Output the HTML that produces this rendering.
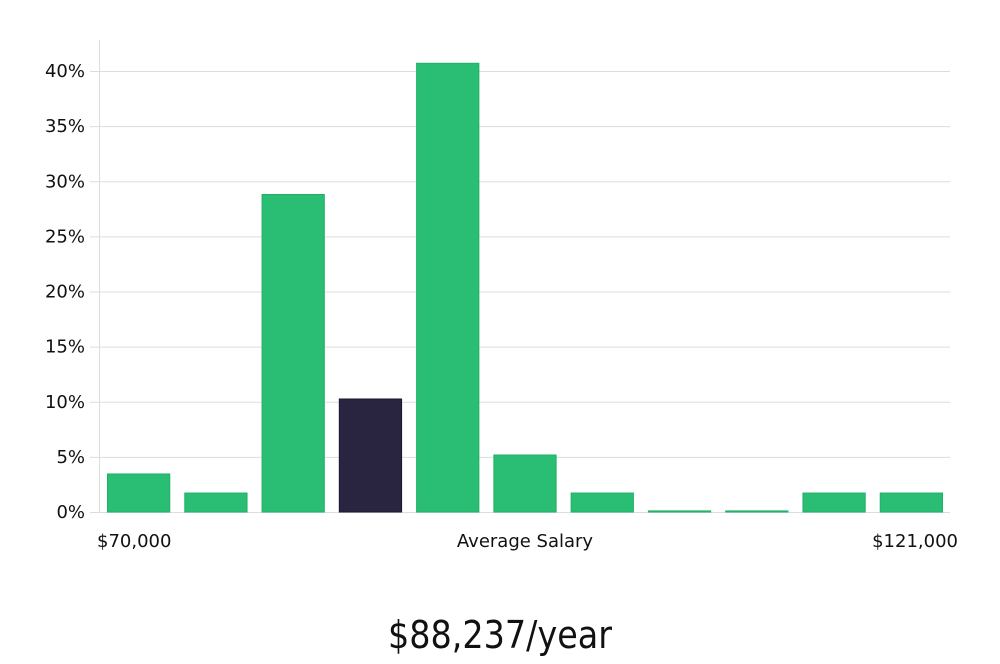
<!DOCTYPE html>
<html><head><meta charset="utf-8"><style>
html,body{margin:0;padding:0;background:#fff;}
body{width:1000px;height:660px;overflow:hidden;font-family:"DejaVu Sans","Liberation Sans",sans-serif;}
</style></head><body>
<svg id="chart" width="1000" height="660" xmlns="http://www.w3.org/2000/svg">
<g id="grid"></g>
<g id="ylab"></g>
<line x1="99.5" y1="40" x2="99.5" y2="512" stroke="#dddddd" stroke-width="1"/>
<g id="bars"></g>
<text x="97" y="547" font-size="18" fill="#111">$70,000</text>
<text x="525" y="547" font-size="18" fill="#111" text-anchor="middle">Average Salary</text>
<text x="958" y="547" font-size="18" fill="#111" text-anchor="end">$121,000</text>
<text x="500" y="648" font-size="38" fill="#111" text-anchor="middle" transform="translate(500,0) scale(0.88,1) translate(-500,0)">$88,237/year</text>
</svg>
<script>
const categories = ["b1","b2","b3","b4","b5","b6","b7","b8","b9","b10","b11"];
const values = [3.45,1.72,28.8,10.25,40.7,5.17,1.72,0.1,0.1,1.72,1.72];
const highlight = [false,false,false,true,false,false,false,false,false,false,false];
const yTicks = [0,5,10,15,20,25,30,35,40];
const NS="http://www.w3.org/2000/svg";
const x0=100,x1=950,yBase=512,pxPer=11.025;
const y=v=>yBase-v*pxPer;
const band=(x1-x0)/categories.length;
const grid=document.getElementById('grid'),ylab=document.getElementById('ylab'),bars=document.getElementById('bars');
yTicks.forEach(t=>{
 const l=document.createElementNS(NS,'line');
 
 
 l.setAttribute('x1',90);l.setAttribute('x2',x1);
 l.setAttribute('y1',y(t)+0.5);l.setAttribute('y2',y(t)+0.5);
 l.setAttribute('stroke','#dddddd');grid.appendChild(l);
 const tx=document.createElementNS(NS,'text');
 
 
 tx.setAttribute('x',85);tx.setAttribute('y',y(t)+6);
 tx.setAttribute('text-anchor','end');tx.setAttribute('font-size','18');tx.setAttribute('fill','#111');
 tx.textContent=t+'%';ylab.appendChild(tx);
});
categories.forEach((c,i)=>{
 const r=document.createElementNS(NS,'rect');
 
 
 const h=Math.max(values[i]*pxPer,1);
 r.setAttribute('x',x0+i*band+7.5);r.setAttribute('width',band-15);
 r.setAttribute('y',yBase-h);r.setAttribute('height',h);
 r.setAttribute('fill',highlight[i]?'#29243f':'#2abd74');
 r.setAttribute('stroke',highlight[i]?'#1c1830':'#22b068');
 r.setAttribute('stroke-width','1');
 bars.appendChild(r);
});
</script>
</body></html>
